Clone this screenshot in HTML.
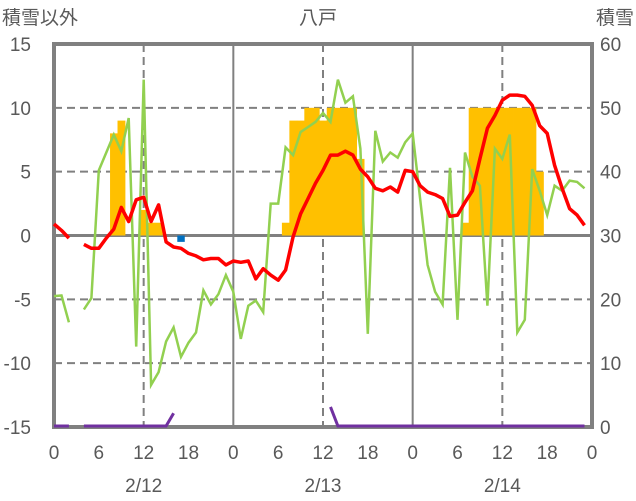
<!DOCTYPE html>
<html><head><meta charset="utf-8">
<style>
body{margin:0;background:#fff;}
svg{display:block;font-family:"Liberation Sans","Noto Sans CJK JP",sans-serif;}
text{fill:#595959;font-size:19px;}
</style></head>
<body>
<svg id="chart" width="636" height="501" viewBox="0 0 636 501" xmlns="http://www.w3.org/2000/svg">
<text x="2" y="24" font-size="19">積雪以外</text>
<text x="318" y="24" text-anchor="middle">八戸</text>
<text x="634" y="24" text-anchor="end">積雪</text>
<g id="grid"></g>
<g id="bars"></g>
<rect x="54" y="44" width="538" height="383" fill="none" stroke="#808080" stroke-width="4"/>
<g id="lines"></g>
<g id="ticks"></g>
</svg>
<script>
const hourLabels=["0","6","12","18","0","6","12","18","0","6","12","18","0"];
const dayLabels=["2/12","2/13","2/14"];
const leftTicks=[15,10,5,0,-5,-10,-15];
const rightTicks=[60,50,40,30,20,10,0];
const redTemp=[0.9,0.4,-0.2,null,-0.7,-1.0,-1.0,-0.2,0.5,2.2,1.1,2.8,3.0,1.1,2.4,-0.5,-0.9,-1.0,-1.4,-1.6,-1.9,-1.8,-1.8,-2.3,-2.0,-2.1,-2.0,-3.4,-2.6,-3.1,-3.5,-2.7,-0.1,1.7,2.9,4.1,5.1,6.3,6.3,6.6,6.3,5.2,4.6,3.7,3.5,3.8,3.4,5.1,5.0,3.9,3.4,3.2,2.9,1.5,1.6,2.6,3.5,6.0,8.4,9.4,10.6,11.0,11.0,10.9,10.2,8.6,8.0,5.5,3.7,2.1,1.6,0.8];
const greenSeries=[-4.75,-4.7,-6.8,null,-5.8,-4.9,5.1,6.5,7.9,6.6,9.2,-8.7,12.2,-11.7,-10.7,-8.3,-7.2,-9.5,-8.4,-7.6,-4.3,-5.4,-4.6,-3.1,-4.4,-8.1,-5.5,-5.1,-6.0,2.5,2.5,6.9,6.3,8.1,8.5,8.9,9.6,8.9,12.2,10.4,10.9,6.8,-7.7,8.2,5.8,6.5,6.1,7.3,8.0,2.9,-2.3,-4.4,-5.4,5.3,-6.6,6.5,4.6,3.9,-5.5,6.8,6.0,7.9,-7.6,-6.6,5.2,3.5,1.6,3.9,3.5,4.3,4.2,3.7];
const purpleSnowfall=[0,0,0,null,0,0,0,0,0,0,0,0,0,0,0,0,2,null,null,null,null,null,null,null,null,null,null,null,null,null,null,null,null,null,null,null,null,3,0,0,0,0,0,0,0,0,0,0,0,0,0,0,0,0,0,0,0,0,0,0,0,0,0,0,0,0,0,0,0,0,0,0];
const barHours=[8,9,12,13,14,31,32,33,34,35,36,37,38,39,40,41,55,56,57,58,59,60,61,62,63,64,65];
const barDepth=[46,48,34,32,32,32,48,48,50,50,48,50,50,50,50,42,32,50,50,50,50,50,50,50,50,50,40];
const blueHours=[17];
const blueDepth=[29];

const NS="http://www.w3.org/2000/svg";
const L=54,R=592,T=44,B=427;
const xH=h=>L+h*(R-L)/72;
const yL=v=>B-(v+15)*(B-T)/30;
const yR=v=>B-v*(B-T)/60;
function mk(tag,attrs,parent){const e=document.createElementNS(NS,tag);for(const k in attrs)e.setAttribute(k,attrs[k]);parent.appendChild(e);return e;}
const grid=document.getElementById('grid'),bars=document.getElementById('bars'),lines=document.getElementById('lines'),ticks=document.getElementById('ticks');

[10,5,-5,-10].forEach(v=>{
  const l=mk('line',{x1:L,x2:R,y1:yL(v),y2:yL(v),stroke:'#808080','stroke-width':2,'stroke-dasharray':'8,5'},grid);
  
  
});
[12,36,60].forEach(h=>{
  const l=mk('line',{x1:xH(h),x2:xH(h),y1:T,y2:B,stroke:'#808080','stroke-width':2,'stroke-dasharray':'8,5'},grid);
  
  
});
[24,48].forEach(h=>{
  const l=mk('line',{x1:xH(h),x2:xH(h),y1:T,y2:B,stroke:'#808080','stroke-width':2},grid);
  
  
});
const base=yL(0);
barHours.forEach((h,i)=>{
  const top=yR(barDepth[i]);
  const r=mk('rect',{x:xH(h-0.5),y:top,width:(R-L)/72+0.4,height:base-top,fill:'#FFC000'},bars);
  
  
});
blueHours.forEach((h,i)=>{
  const bt=yR(blueDepth[i]);
  const r=mk('rect',{x:xH(h-0.5),y:base,width:(R-L)/72,height:bt-base,fill:'#0070C0'},bars);
  
  
});
const zl=mk('line',{x1:L,x2:R,y1:base,y2:base,stroke:'#808080','stroke-width':3},grid);



function pathFor(arr,yf){let d='',pen=false;arr.forEach((v,h)=>{if(v===null){pen=false;return;}d+=(pen?'L':'M')+xH(h).toFixed(1)+','+yf(v).toFixed(1);pen=true;});return d;}
const g=mk('path',{d:pathFor(greenSeries,yL),fill:'none',stroke:'#92D050','stroke-width':2.5,'stroke-linejoin':'miter'},lines);


const p=mk('path',{d:pathFor(purpleSnowfall,v=>yR(v)-1),fill:'none',stroke:'#7030A0','stroke-width':3},lines);


const rl=mk('path',{d:pathFor(redTemp,yL),fill:'none',stroke:'#FF0000','stroke-width':3.5,'stroke-linejoin':'round'},lines);



leftTicks.forEach(v=>{
  const t=mk('text',{x:31,y:yL(v)+7,'text-anchor':'end'},ticks);t.textContent=v;
  
  
});
rightTicks.forEach(v=>{
  const t=mk('text',{x:600,y:yR(v)+7},ticks);t.textContent=v;
  
  
});
hourLabels.forEach((s,i)=>{
  const t=mk('text',{x:xH(i*6),y:459,'text-anchor':'middle'},ticks);t.textContent=s;
  
  
});
dayLabels.forEach((s,i)=>{
  const t=mk('text',{x:xH(i*24+12),y:492,'text-anchor':'middle'},ticks);t.textContent=s;
  
  
});
</script>
</body></html>
